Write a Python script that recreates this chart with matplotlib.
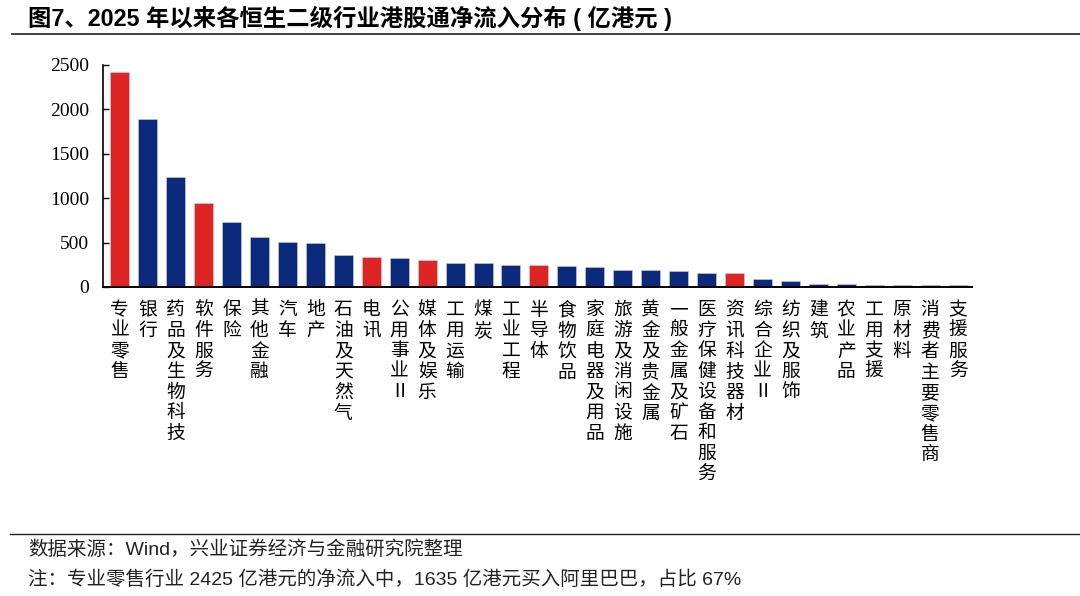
import matplotlib
matplotlib.use('Agg')
import matplotlib.pyplot as plt
from matplotlib.lines import Line2D

# 数据（亿港元）
industries = ['专业零售', '银行', '药品及生物科技', '软件服务', '保险', '其他金融', '汽车', '地产',
              '石油及天然气', '电讯', '公用事业Ⅱ', '媒体及娱乐', '工用运输', '煤炭', '工业工程', '半导体',
              '食物饮品', '家庭电器及用品', '旅游及消闲设施', '黄金及贵金属', '一般金属及矿石',
              '医疗保健设备和服务', '资讯科技器材', '综合企业Ⅱ', '纺织及服饰', '建筑', '农业产品',
              '工用支援', '原材料', '消费者主要零售商', '支援服务']
inflow = [2425, 1888, 1239, 942, 728, 559, 507, 495,
          357, 334, 329, 300, 274, 274, 244, 251,
          236, 225, 188, 188, 176,
          158, 158, 86, 68, 34, 34,
          26, 18, 18, 18]
highlight = ['专业零售', '软件服务', '电讯', '媒体及娱乐', '半导体', '资讯科技器材']
yticks = [0, 500, 1000, 1500, 2000, 2500]

RED = '#DF2424'
NAVY = '#0B2A7C'
cjk = ['Liberation Sans', 'Noto Sans CJK SC', 'DejaVu Sans']

fig = plt.figure(figsize=(10.8, 5.96), dpi=100)
ax = fig.add_axes([103 / 1080, 1 - 287 / 596, (972 - 103) / 1080, (287 - 65) / 596])

colors = [RED if name in highlight else NAVY for name in industries]
x = list(range(len(industries)))
ax.bar(x, inflow, width=0.68, color=colors, edgecolor='#C8D0E6', linewidth=0.4)

ax.set_xlim(-0.6, 30.5)
ax.set_ylim(0, 2500)
ax.set_yticks(yticks)
ax.set_yticklabels([str(v) for v in yticks], family='Liberation Serif', fontsize=14)
ax.tick_params(axis='y', direction='in', length=4, width=1, pad=10)
ax.set_xticks(x)
ax.set_xticklabels(['\n'.join(name) for name in industries], family=cjk, fontsize=13.5,
                   linespacing=1.27, va='top')
ax.tick_params(axis='x', length=0, pad=11)
for s in ['top', 'right']:
    ax.spines[s].set_visible(False)
ax.spines['left'].set_linewidth(1.2)
ax.spines['bottom'].set_linewidth(1.4)

# 标题、分隔线与注释
fig.text(28 / 1080, 1 - 18 / 596, '图7、2025 年以来各恒生二级行业港股通净流入分布 ( 亿港元 )',
         family=cjk, fontsize=16.8, fontweight='bold', va='center', ha='left')
fig.add_artist(Line2D([12 / 1080, 1], [1 - 34 / 596] * 2, color='#222222', linewidth=1.2))
fig.add_artist(Line2D([10 / 1080, 1], [1 - 534 / 596] * 2, color='#222222', linewidth=1.0))
fig.text(28 / 1080, 1 - 550 / 596, '数据来源：Wind，兴业证券经济与金融研究院整理',
         family=cjk, fontsize=14, color='#222222', va='center', ha='left')
fig.text(28 / 1080, 1 - 579 / 596, '注：专业零售行业 2425 亿港元的净流入中，1635 亿港元买入阿里巴巴，占比 67%',
         family=cjk, fontsize=14, color='#222222', va='center', ha='left')

fig.savefig('out.png', dpi=100)
